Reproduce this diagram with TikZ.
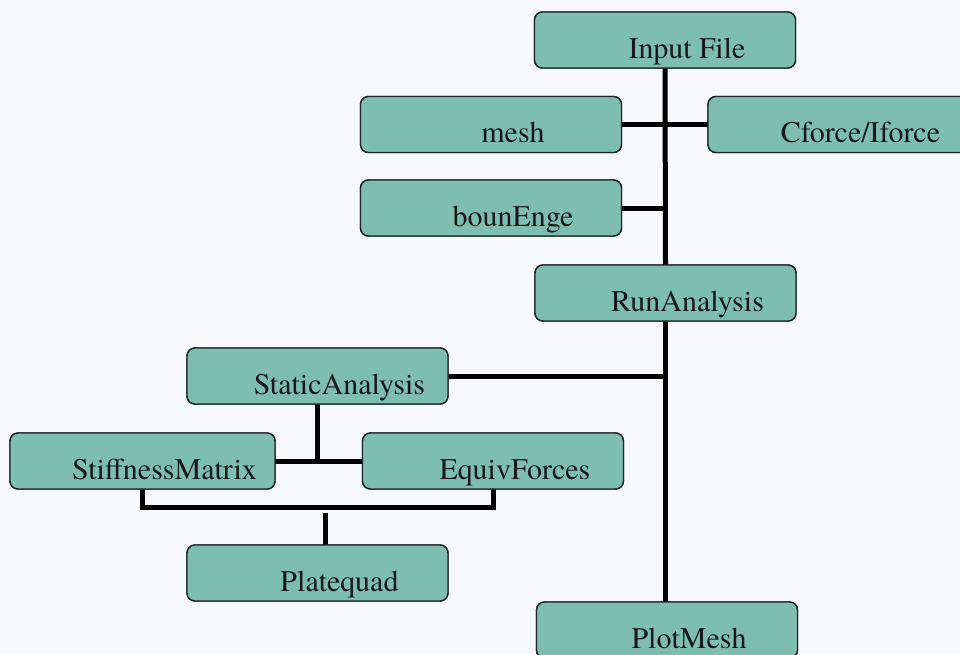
\documentclass[tikz,border=0pt]{standalone}
\usepackage{fontspec}
\setmainfont{texgyretermes-regular.otf}
\definecolor{boxfill}{RGB}{126,190,176}
\definecolor{bgcol}{RGB}{246,248,250}
\definecolor{edgecol}{RGB}{30,40,38}
\tikzset{
  box/.style={draw=edgecol, line width=1.4pt, rounded corners=8pt, fill=boxfill,
    minimum width=261pt, minimum height=56pt, inner sep=0pt, outer sep=0pt},
  lbl/.style={anchor=base, inner sep=0pt, font=\fontsize{30}{36}\selectfont, text=black!90},
  link/.style={line width=5pt, black}
}
\begin{document}
\begin{tikzpicture}[x=1pt,y=-1pt]
\clip (0,0) rectangle (960,654);
\fill[bgcol] (0,0) rectangle (960,654);
% boxes
\node[box] (input) at (665,40) {};
\node[box] (mesh) at (491,124.5) {};
\node[box] (cforce) at (838.5,124.5) {};
\node[box] (boun) at (491,208) {};
\node[box] (run) at (665.5,293) {};
\node[box] (static) at (317.5,376) {};
\node[box, minimum width=265pt] (stiff) at (142.5,461) {};
\node[box] (equiv) at (493,461) {};
\node[box] (plate) at (317.5,573) {};
\node[box] (plot) at (667,630) {};
% connectors
\coordinate (jboun) at (input.south |- boun.east);
\coordinate (jstatic) at (run.south |- static.east);
\coordinate (jplate) at ([xshift=7.5pt,yshift=-18pt]stiff.south -| plate.north);
\draw[link] (input.south) -- (run.north);
\draw[link] (mesh.east) -- (cforce.west);
\draw[link] (boun.east) -- (jboun);
\draw[link] (run.south) -- (run.south |- plot.north);
\draw[link] (static.east) -- (jstatic);
\draw[link] (static.south) -- (static.south |- stiff.east);
\draw[link] (stiff.east) -- (equiv.west);
\draw[link] (stiff.south) -- ++(0,18) -| (equiv.south);
\draw[link] ([yshift=-6pt]jplate) -- (jplate |- plate.north);
% redraw boxes on top
\foreach \n in {input,mesh,cforce,boun,run,static,stiff,equiv,plate,plot}{
  \draw[draw=edgecol, line width=1.4pt, rounded corners=8pt, fill=boxfill]
    (\n.north west) rectangle (\n.south east);
}
% labels
\node[lbl] (tinput) at ([xshift=22pt,yshift=-18pt]input.center) {Input File};
\node[lbl] (tmesh) at ([xshift=22pt,yshift=-18pt]mesh.center) {mesh};
\node[lbl] (tcforce) at ([xshift=22pt,yshift=-18pt]cforce.center) {Cforce/Iforce};
\node[lbl] (tboun) at ([xshift=22pt,yshift=-18pt]boun.center) {bounEnge};
\node[lbl] (trun) at ([xshift=22pt,yshift=-18pt]run.center) {RunAnalysis};
\node[lbl] (tstatic) at ([xshift=22pt,yshift=-18pt]static.center) {StaticAnalysis};
\node[lbl] (tstiff) at ([xshift=22pt,yshift=-18pt]stiff.center) {StiffnessMatrix};
\node[lbl] (tequiv) at ([xshift=22pt,yshift=-18pt]equiv.center) {EquivForces};
\node[lbl] (tplate) at ([xshift=22pt,yshift=-18pt]plate.center) {Platequad};
\node[lbl] (tplot) at ([xshift=22pt,yshift=-18pt]plot.center) {PlotMesh};
\end{tikzpicture}
\end{document}
